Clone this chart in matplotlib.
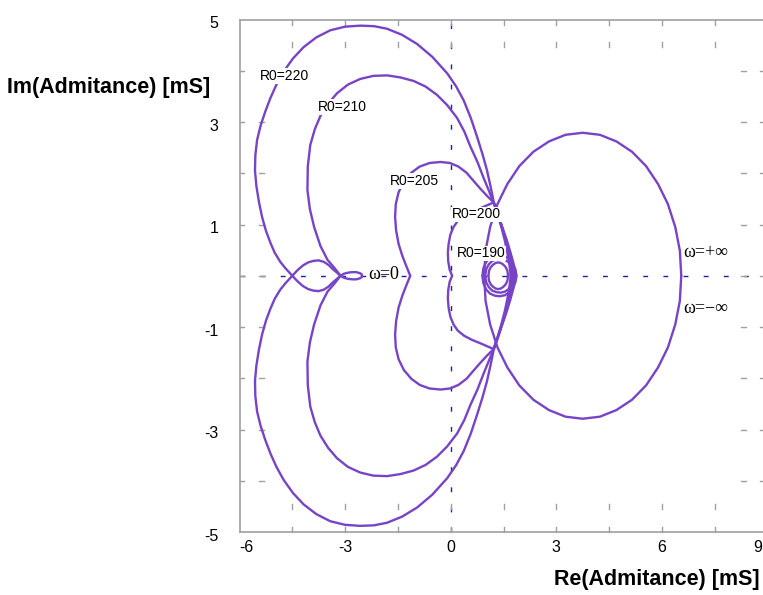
import matplotlib
matplotlib.use("Agg")
import matplotlib.pyplot as plt
import numpy as np

plt.rcParams['font.family'] = ['Liberation Sans', 'DejaVu Sans']
plt.rcParams['lines.scale_dashes'] = False

# upper halves (Im >= 0) of the admittance loops [mS]
# the lower halves are the complex conjugates
circle_re = [0.95, 0.99, 1.12, 1.33, 1.61, 1.95, 2.35, 2.79, 3.26, 3.75, 4.24, 4.71,
             5.15, 5.55, 5.89, 6.17, 6.38, 6.51, 6.55]
circle_im = [0.0, 0.49, 0.95, 1.40, 1.79, 2.14, 2.42, 2.62, 2.75, 2.79, 2.75, 2.62,
             2.42, 2.14, 1.79, 1.40, 0.95, 0.49, 0.0]

r220_re = [-4.5, -4.7, -4.84, -5.0, -5.12, -5.25, -5.36, -5.45, -5.52, -5.56, -5.55, -5.5,
           -5.4, -5.27, -5.12, -4.95, -4.74, -4.48, -4.18, -3.82, -3.42, -3.0, -2.57, -2.18,
           -1.81, -1.38, -0.95, -0.52, -0.1, 0.15, 0.37, 0.57, 0.75, 0.9, 1.03, 1.13, 1.22,
           1.35, 1.48, 1.6, 1.7, 1.78, 1.83, 1.85]
r220_im = [0.0, 0.15, 0.27, 0.45, 0.64, 0.88, 1.15, 1.45, 1.75, 2.05, 2.35, 2.65,
           2.93, 3.2, 3.47, 3.73, 3.99, 4.24, 4.46, 4.65, 4.79, 4.86, 4.88, 4.87,
           4.82, 4.7, 4.52, 4.27, 3.95, 3.7, 3.42, 3.08, 2.71, 2.38, 2.06, 1.75, 1.45,
           1.18, 0.92, 0.68, 0.45, 0.25, 0.1, 0.0]
r220_lobe_re = [-4.5, -4.35, -4.2, -4.05, -3.9, -3.75, -3.6, -3.47, -3.35, -3.23, -3.13]
r220_lobe_im = [0.0, 0.11, 0.2, 0.26, 0.29, 0.3, 0.27, 0.21, 0.13, 0.06, 0.0]

r210_re = [-3.13, -3.3, -3.5, -3.7, -3.88, -4.0, -4.07, -4.06, -3.99, -3.86, -3.7, -3.48,
           -3.23, -2.92, -2.57, -2.2, -1.81, -1.43, -1.05, -0.71, -0.39, -0.1, 0.18, 0.39,
           0.56, 0.76, 0.94, 1.09, 1.22, 1.35, 1.47, 1.58, 1.67, 1.74, 1.78, 1.8]
r210_im = [0.0, 0.15, 0.31, 0.58, 0.95, 1.3, 1.67, 2.13, 2.55, 2.86, 3.12, 3.36,
           3.56, 3.73, 3.84, 3.9, 3.91, 3.87, 3.8, 3.69, 3.53, 3.33, 3.08, 2.81,
           2.52, 2.22, 1.9, 1.65, 1.43, 1.18, 0.92, 0.68, 0.45, 0.25, 0.1, 0.0]
r210_loop_re = [-3.13, -3.03, -2.92, -2.8, -2.68, -2.58, -2.53, -2.52]
r210_loop_im = [0.0, 0.04, 0.06, 0.07, 0.07, 0.05, 0.03, 0.0]

r205_re = [-1.15, -1.25, -1.37, -1.48, -1.55, -1.58, -1.56, -1.48, -1.33, -1.12, -0.88, -0.6,
           -0.29, -0.02, 0.22, 0.45, 0.65, 0.84, 1.03, 1.22, 1.35, 1.47, 1.57, 1.65,
           1.71, 1.74, 1.75]
r205_im = [0.0, 0.17, 0.38, 0.62, 0.88, 1.15, 1.4, 1.63, 1.84, 2.01, 2.13, 2.2,
           2.22, 2.2, 2.13, 2.01, 1.85, 1.7, 1.56, 1.43, 1.18, 0.92, 0.68, 0.45,
           0.25, 0.1, 0.0]

r200_re = [0.04, -0.03, -0.07, -0.08, -0.06, -0.01, 0.08, 0.2, 0.38, 0.6, 0.85, 1.05,
           1.22, 1.34, 1.45, 1.54, 1.61, 1.66, 1.69, 1.7]
r200_im = [0.0, 0.12, 0.28, 0.45, 0.62, 0.8, 0.95, 1.07, 1.17, 1.25, 1.32, 1.38,
           1.43, 1.18, 0.92, 0.68, 0.45, 0.25, 0.1, 0.0]

# small loops around Re = 1.36 near the high frequency crossing
r190_re = [1.07, 1.09, 1.14, 1.21, 1.28, 1.35, 1.42, 1.49, 1.56, 1.61, 1.63]
r190_im = [0.0, 0.1, 0.17, 0.22, 0.25, 0.26, 0.25, 0.22, 0.17, 0.1, 0.0]
loop_a_re = [0.98, 1.01, 1.08, 1.18, 1.3, 1.42, 1.54, 1.65, 1.73, 1.78, 1.8]
loop_a_im = [0.0, 0.13, 0.22, 0.29, 0.32, 0.33, 0.31, 0.26, 0.18, 0.09, 0.0]
loop_b_re = [0.9, 0.93, 1.01, 1.12, 1.26, 1.4, 1.54, 1.67, 1.77, 1.84, 1.87]
loop_b_im = [0.0, 0.15, 0.27, 0.35, 0.39, 0.4, 0.38, 0.32, 0.23, 0.12, 0.0]

strokes = [(circle_re, circle_im), (r220_re, r220_im), (r220_lobe_re, r220_lobe_im),
           (r210_re, r210_im), (r210_loop_re, r210_loop_im), (r205_re, r205_im),
           (r200_re, r200_im), (r190_re, r190_im), (loop_a_re, loop_a_im),
           (loop_b_re, loop_b_im)]

labels = ['R0=220', 'R0=210', 'R0=205', 'R0=200', 'R0=190']
label_re = [-4.72, -3.07, -1.03, 0.73, 0.87]
label_im = [3.9, 3.29, 1.85, 1.2, 0.44]

x_labeled = [-6, -3, 0, 3, 6, 9]
y_labeled = [-5, -3, -1, 1, 3, 5]
x_grid = [-4.5, -3, -1.5, 0, 1.5, 3, 4.5, 6, 7.5]
y_grid = [-4, -3, -2, -1, 0, 1, 2, 3, 4]

purple = '#7744c8'
navy = '#20209a'
gray = '#a0a0a0'

fig = plt.figure(figsize=(7.63, 5.95), dpi=100)
ax = fig.add_axes([239.5 / 763, 63 / 595, 528 / 763, 512.5 / 595])
ax.set_xlim(-6, 9)
ax.set_ylim(-5, 5)

# axes through the origin
ax.plot([-6, 9], [0, 0], color=navy, lw=1.0, dashes=(3.5, 11), zorder=1)
ax.plot([0, 0], [-5, 5], color=navy, lw=1.0, dashes=(3.5, 11), zorder=1)

for re, im in strokes:
    re = np.array(re)
    im = np.array(im)
    ax.plot(re, im, color=purple, lw=1.7, solid_capstyle='round', solid_joinstyle='round', zorder=3)
    ax.plot(re, -im, color=purple, lw=1.7, solid_capstyle='round', solid_joinstyle='round', zorder=3)

for txt, xr, yi in zip(labels, label_re, label_im):
    ax.text(xr, yi, txt, fontsize=10, ha='center', va='center', zorder=5,
            bbox=dict(facecolor='white', edgecolor='none', pad=0.5))

serif = ['Liberation Serif', 'DejaVu Serif']
ax.text(-1.9, 0.03, 'ω=0', fontsize=13, family=serif, ha='center', va='center', zorder=5)
ax.text(7.24, 0.46, 'ω=+∞', fontsize=13, family=serif, ha='center', va='center', zorder=5)
ax.text(7.24, -0.63, 'ω=−∞', fontsize=13, family=serif, ha='center', va='center', zorder=5)

# spines
for s in ['left', 'bottom', 'top']:
    ax.spines[s].set_color(gray)
    ax.spines[s].set_linewidth(1.2)
ax.spines['right'].set_visible(False)

# tick labels (ends aligned inwards, like the original)
ax.set_xticks([])
ax.set_yticks([])
xt = ax.get_xaxis_transform()
yt = ax.get_yaxis_transform()
for i, v in enumerate(x_labeled):
    ha = 'left' if i == 0 else ('right' if i == len(x_labeled) - 1 else 'center')
    xpos = v if i < len(x_labeled) - 1 else 8.85
    ax.text(xpos, -0.016, str(v), transform=xt, fontsize=11.5, ha=ha, va='top')
for v in y_labeled:
    dy = -0.05 if v in (5, -5) else -0.05
    ax.text(-0.04, v + dy, str(v), transform=yt, fontsize=11.5, ha='right', va='center_baseline')

# grid marks near the frame
for gx in x_grid:
    for y0, y1 in [(0.0, 0.010), (0.044, 0.054), (0.946, 0.956), (0.990, 1.0)]:
        ax.plot([gx, gx], [y0, y1], color=gray, lw=1.0, transform=xt, clip_on=False, zorder=2)
for gy in y_grid:
    for x0, x1 in [(0.0, 0.008), (0.037, 0.046), (0.950, 0.959), (0.986, 0.994)]:
        ax.plot([x0, x1], [gy, gy], color=gray, lw=1.0, transform=yt, clip_on=False, zorder=2)

fig.text(109 / 763, 1 - 87 / 595, 'Im(Admitance) [mS]', fontsize=15.5, fontweight='bold',
         ha='center', va='center')
fig.text(760 / 763, 1 - 580 / 595, 'Re(Admitance) [mS]', fontsize=15.5, fontweight='bold',
         ha='right', va='center')

fig.savefig('out.png', dpi=100)
